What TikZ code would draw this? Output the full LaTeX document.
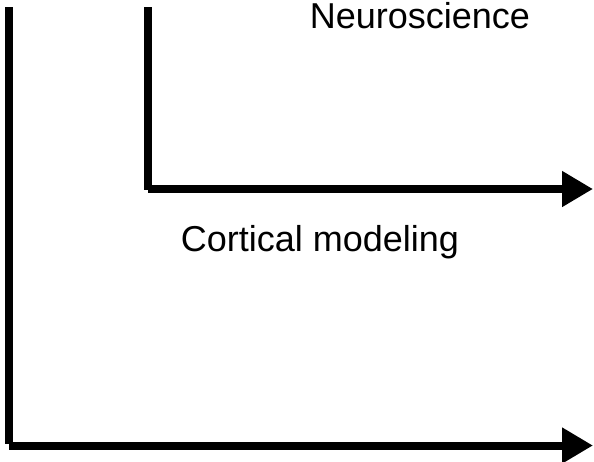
\documentclass[tikz,border=0pt]{standalone}
\usepackage{fontspec}
\setmainfont{Liberation Sans}
\usetikzlibrary{arrows.meta}
\begin{document}
\begin{tikzpicture}[x=1pt,y=-1pt,
  axis/.style={line width=8pt, line cap=butt, draw=black},
  arrowaxis/.style={axis, -{Triangle[length=31pt,width=34pt]}},
  lbl/.style={font=\fontsize{36}{42}\selectfont, inner sep=0pt, anchor=base}]
\useasboundingbox (0,0) rectangle (594,461);
% outer axes
\coordinate (otop) at (8.5,7);
\coordinate (ocorner) at (8.5,443.5);
\coordinate (ohstart) at (8.5,445.5);
\coordinate (oend) at (593,445.5);
\draw[axis] (otop) -- (ocorner);
\draw[arrowaxis] (ohstart) -- (oend);
% inner axes
\coordinate (itop) at (147.5,7);
\coordinate (icorner) at (147.5,189.5);
\coordinate (ihstart) at (147.5,189);
\coordinate (iend) at (593,189);
\draw[axis] (itop) -- (icorner);
\draw[arrowaxis] (ihstart) -- (iend);
% labels
\node[lbl] (neuro) at (420,28) {Neuroscience};
\node[lbl] (cort) at (320,251) {Cortical modeling};
\end{tikzpicture}
\end{document}
